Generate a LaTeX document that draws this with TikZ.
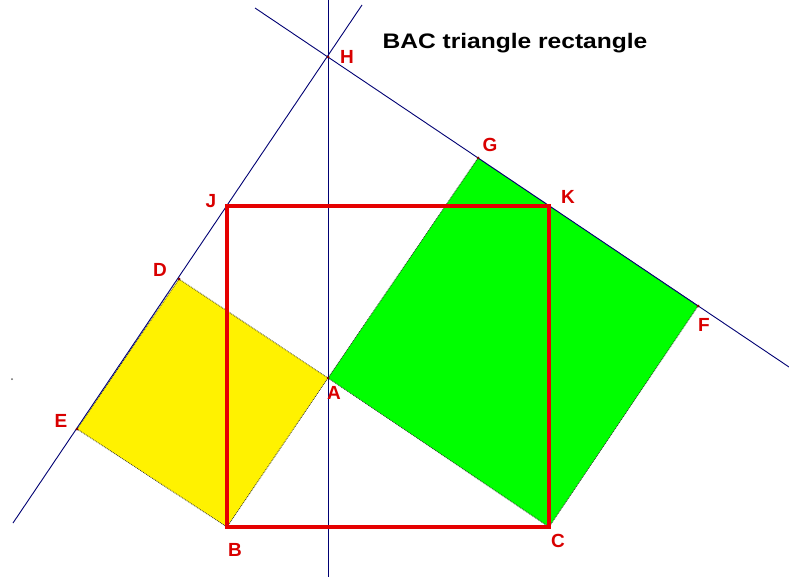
\documentclass[tikz,border=0pt]{standalone}
\usepackage{fontspec}
\setmainfont{Liberation Sans}
\begin{document}
\begin{tikzpicture}[x=1pt,y=-1pt,
  lbl/.style={text=red!85!black, font=\bfseries\fontsize{19}{19}\selectfont, inner sep=0pt},
  bline/.style={draw=blue!45!black, line width=0.9pt},
  sq/.style={draw=black!80, line width=0.8pt, densely dotted},
  rect/.style={draw=red!90!black, line width=3.6pt, line join=miter},
  pt/.style={circle, fill=red!50!black, inner sep=0pt, minimum size=3pt}]
\useasboundingbox[fill=white] (0,0) rectangle (789,577);
% points
\coordinate (A) at (328,378);
\coordinate (B) at (227,527);
\coordinate (C) at (549,527);
\coordinate (D) at (179,279);
\coordinate (E) at (77,429);
\coordinate (G) at (478,158);
\coordinate (F) at (698,306);
\coordinate (H) at (328,57);
\coordinate (J) at (227,206);
\coordinate (K) at (549,206);
\coordinate (l1a) at (13,523);
\coordinate (l1b) at (362,5);
\coordinate (l2a) at (255,8);
\coordinate (l2b) at (789,367);
\coordinate (v1) at (328,0);
\coordinate (v2) at (328,577);
% squares
\fill[yellow] (A) -- (D) -- (E) -- (B) -- cycle;
\fill[green] (A) -- (G) -- (F) -- (C) -- cycle;
\draw[sq] (A) -- (D) -- (E) -- (B) -- cycle;
\draw[sq] (A) -- (G) -- (F) -- (C) -- cycle;
% lines
\draw[bline] (l1a) -- (l1b);
\draw[bline] (l2a) -- (l2b);
\draw[bline] (v1) -- (v2);
% rectangle
\draw[rect] (J) -- (K) -- (C) -- (B) -- cycle;
% point marks
\foreach \p in {H,E,F,G,D,A}{\node[pt] at (\p) {};}
\node[circle, fill=black!60, inner sep=0pt, minimum size=2pt] (dot) at (12,379) {};
% labels
\node[lbl] (lH) at (347,57) {H};
\node[lbl] (lJ) at (211,201) {J};
\node[lbl] (lD) at (160,270) {D};
\node[lbl] (lE) at (61,421) {E};
\node[lbl] (lA) at (334,393) {A};
\node[lbl] (lB) at (235,550) {B};
\node[lbl] (lC) at (558,541) {C};
\node[lbl] (lG) at (490,145) {G};
\node[lbl] (lK) at (568,197) {K};
\node[lbl] (lF) at (704,325) {F};
\node[font=\bfseries\fontsize{21}{21}\selectfont, inner sep=0pt, xscale=1.17] (title) at (515,43) {BAC triangle rectangle};
\end{tikzpicture}
\end{document}
